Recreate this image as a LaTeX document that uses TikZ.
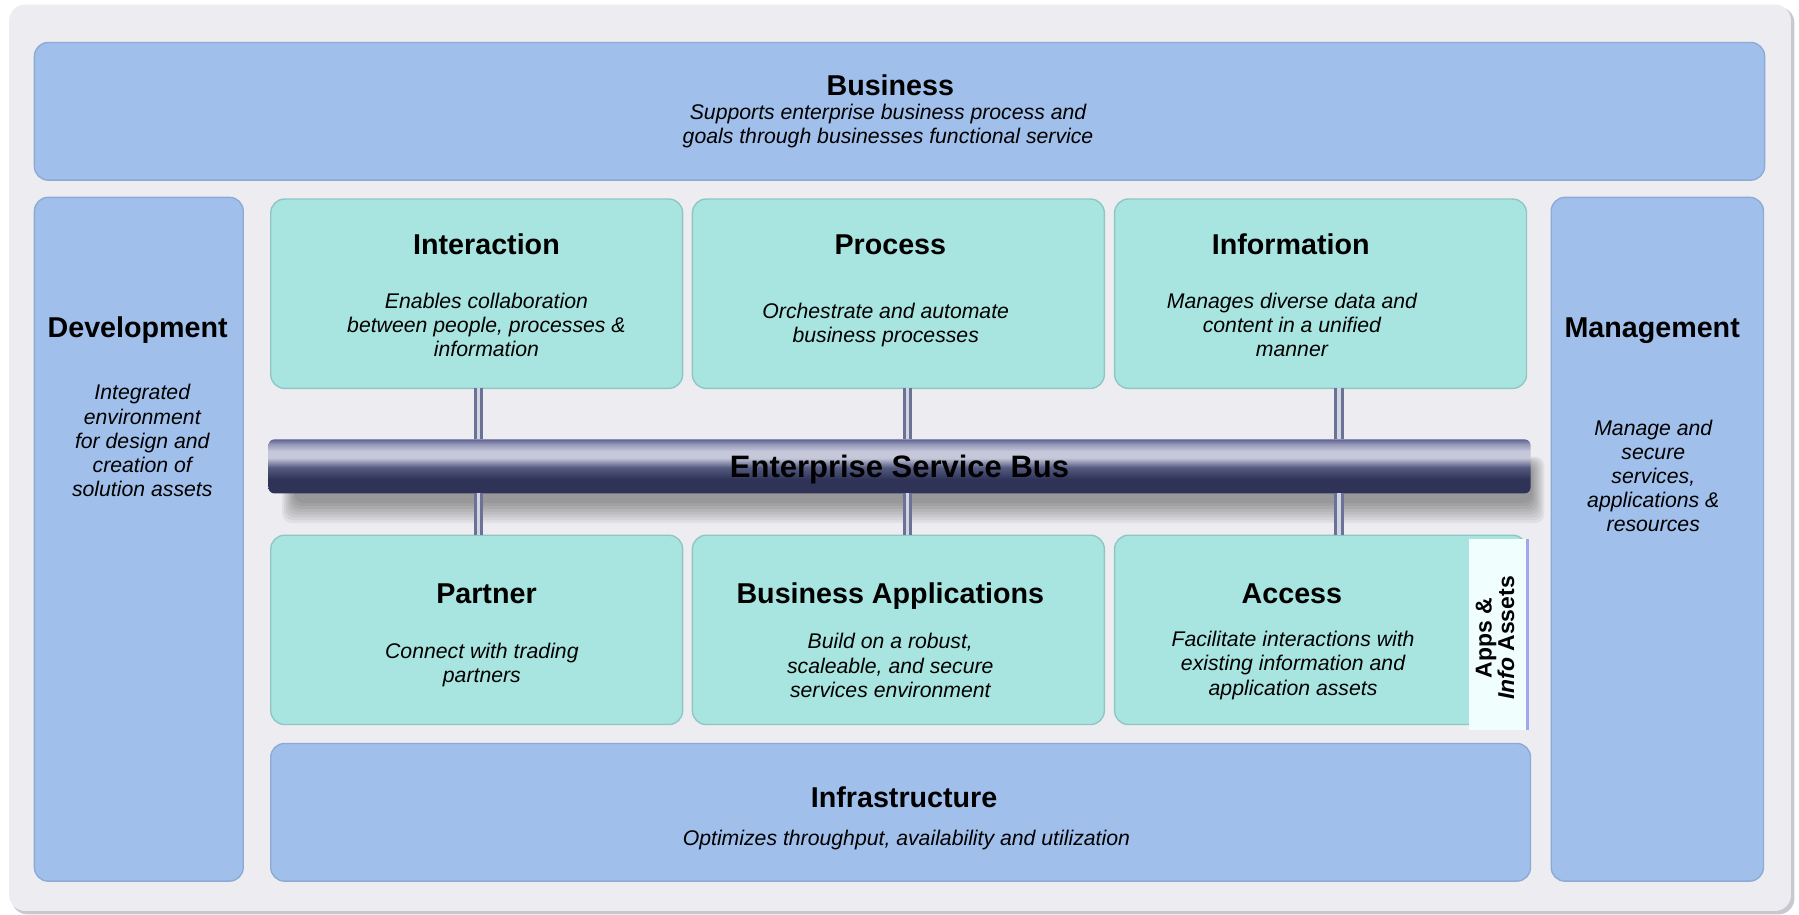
\documentclass[tikz,border=0pt]{standalone}
\usepackage{fontspec}
\setmainfont{Liberation Sans}
\usepackage{xcolor}

\definecolor{panelgray}{HTML}{EDEDF1}
\definecolor{paneledge}{HTML}{C8C8CE}
\definecolor{layerblue}{HTML}{A0C0EB}
\definecolor{layeredge}{HTML}{8CAAD6}
\definecolor{servteal}{HTML}{A9E5E0}
\definecolor{servedge}{HTML}{8FC6C2}
\definecolor{esbtop}{HTML}{5E6290}
\definecolor{esbmid}{HTML}{9194B6}
\definecolor{esbhi}{HTML}{C6C8DA}
\definecolor{esblow}{HTML}{555A80}
\definecolor{esbbot}{HTML}{2E3357}
\definecolor{pipedark}{HTML}{6C7296}
\definecolor{pipelight}{HTML}{D2D5E2}
\definecolor{tabfill}{HTML}{F0FEFE}
\definecolor{tabline}{HTML}{A2A8EE}

\pgfdeclareverticalshading{esbshade}{100bp}{color(0bp)=(esbbot); color(25bp)=(esbbot);
  color(38bp)=(esbbot); color(49bp)=(esblow); color(58bp)=(esbhi); color(64bp)=(esbhi);
  color(71bp)=(esbmid); color(75bp)=(esbtop); color(100bp)=(esbtop)}

\tikzset{
  layer/.style={draw=layeredge, line width=1.2pt, fill=layerblue, rounded corners=12pt,
    inner sep=0pt, outer sep=0pt},
  service/.style={draw=servedge, line width=1.2pt, fill=servteal, rounded corners=12pt,
    minimum width=359pt, minimum height=165pt, inner sep=0pt, outer sep=0pt},
  head/.style={font=\fontsize{25}{28}\selectfont\bfseries, text height=18pt,
    text depth=0pt, inner sep=0pt},
  desc/.style={font=\fontsize{18.5}{21}\selectfont\itshape, align=center, inner sep=0pt},
  pipe/.style={draw=pipedark, line width=2.5pt, double=pipelight, double distance=3pt},
  bus/.style={shade, shading=esbshade, rounded corners=5pt, minimum width=1100pt,
    minimum height=47pt, inner sep=0pt, outer sep=0pt,
    font=\fontsize{27}{30}\selectfont\bfseries, text height=19pt, text depth=0pt},
  busshadow/.style={fill=black, opacity=0.05, rounded corners=8pt},
}

\begin{document}
\begin{tikzpicture}[x=1pt, y=-1pt]
  % Canvas and panel
  \useasboundingbox[fill=white] (0,0) rectangle (1568,797);
  \fill[paneledge, rounded corners=14pt] (10,6) rectangle (1564,797);
  \fill[panelgray, rounded corners=14pt] (8,4) rectangle (1561,794);

  % Business layer
  \node[layer, minimum width=1508pt, minimum height=120pt] (business) at (784,97) {};
  \node[head] (businessT) at (776,74) {Business};
  \node[desc] (businessD) at (774,110)
    {Supports enterprise business process and\\goals through businesses functional service};

  % Development and Management
  \node[layer, minimum width=182pt, minimum height=596pt] (development) at (121,470) {};
  \node[head] (developmentT) at (120,285) {Development};
  \node[desc] (developmentD) at (124,384)
    {Integrated\\environment\\for design and\\creation of\\solution assets};
  \node[layer, minimum width=185pt, minimum height=596pt] (management) at (1444.5,470) {};
  \node[head] (managementT) at (1440,285) {Management};
  \node[desc] (managementD) at (1441,415)
    {Manage and\\secure\\services,\\applications \&\\resources};

  % Upper services
  \node[service] (interaction) at (415.5,256) {};
  \node[service] (process) at (783,256) {};
  \node[service] (information) at (1151,256) {};
  \node[head] (interactionT) at (424,213) {Interaction};
  \node[head] (processT) at (776,213) {Process};
  \node[head] (informationT) at (1125,213) {Information};
  \node[desc] (interactionD) at (424,283)
    {Enables collaboration\\between people, processes \&\\information};
  \node[desc] (processD) at (772,283) {Orchestrate and automate\\business processes};
  \node[desc] (informationD) at (1126,283)
    {Manages diverse data and\\content in a unified\\manner};

  % Lower services
  \node[service] (partner) at (415.5,549) {};
  \node[service] (bizapps) at (783,549) {};
  \node[service] (access) at (1151,549) {};
  \node[head] (partnerT) at (424,517) {Partner};
  \node[head] (bizappsT) at (776,517) {Business Applications};
  \node[head] (accessT) at (1126,517) {Access};
  \node[desc] (partnerD) at (420,580) {Connect with trading\\partners};
  \node[desc] (bizappsD) at (776,580)
    {Build on a robust,\\scaleable, and secure\\services environment};
  \node[desc] (accessD) at (1127,580)
    {Facilitate interactions with\\existing information and\\application assets};

  % Apps & Info Assets tab
  \node[fill=tabfill, minimum width=51pt, minimum height=166pt, inner sep=0pt]
    (assets) at (1305.5,553) {};
  \draw[tabline, line width=3pt] (assets.north east) -- (assets.south east);
  \node[rotate=90, align=center, inner sep=0pt,
    font=\fontsize{20}{16}\selectfont\bfseries] (assetsT) at (1303,556)
    {Apps \&\\\textit{Info} Assets};

  % Infrastructure layer
  \node[layer, minimum width=1098pt, minimum height=120pt] (infrastructure) at (785,708) {};
  \node[head] (infrastructureT) at (788,695) {Infrastructure};
  \node[desc] (infrastructureD) at (790,732)
    {Optimizes throughput, availability and utilization};

  % Enterprise Service Bus
  \foreach \i in {0,...,7}
    \fill[busshadow] (246+1.5*\i,398+\i) rectangle (1346-1.5*\i,456-2.5*\i);
  \node[bus] (esb) at (784,406.5) {Enterprise Service Bus};

  % Pipes through the bus
  \foreach \up/\dn/\dx in {interaction/partner/1.5, process/bizapps/8, information/access/16}
    \draw[pipe] ([xshift=\dx pt]\up.south) -- ([xshift=\dx pt]\up.south |- esb.north)
                ([xshift=\dx pt]\dn.north |- esb.south) -- ([xshift=\dx pt]\dn.north);
\end{tikzpicture}
\end{document}
